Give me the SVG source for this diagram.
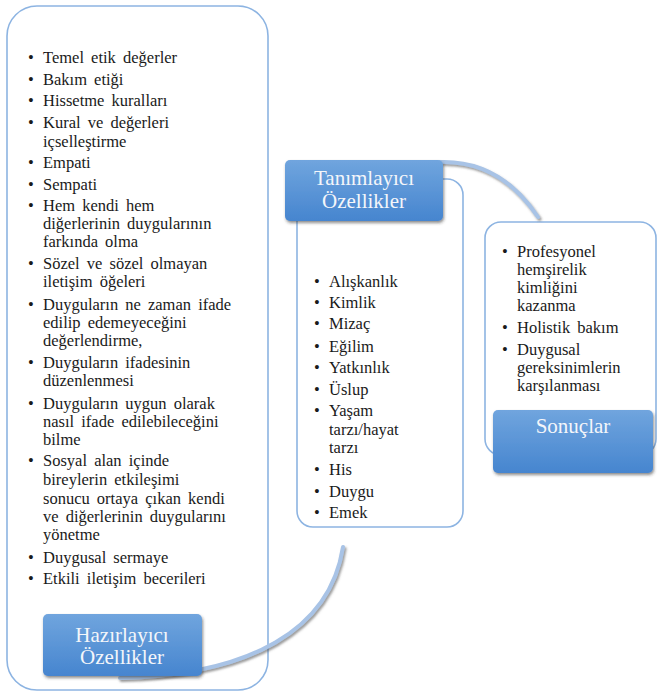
<svg xmlns="http://www.w3.org/2000/svg" width="659" height="695" viewBox="0 0 659 695" style="font-family:'Liberation Serif',serif">
<defs>
<linearGradient id="btn" x1="0" y1="0" x2="0" y2="1">
<stop offset="0" stop-color="#70a5de"/>
<stop offset="1" stop-color="#4685cf"/>
</linearGradient>
<filter id="sh" x="-10%" y="-10%" width="130%" height="140%">
<feDropShadow dx="1" dy="2" stdDeviation="1.5" flood-color="#333" flood-opacity="0.55"/>
</filter>
<filter id="csh" x="-20%" y="-20%" width="140%" height="140%">
<feDropShadow dx="1.5" dy="2" stdDeviation="1.2" flood-color="#555" flood-opacity="0.6"/>
</filter>
</defs>
<rect width="659" height="695" fill="#fff"/>

<g id="box-hazirlayici">
<rect x="7" y="6" width="261" height="684" rx="30" fill="#fff" stroke="#8db4e2" stroke-width="1.6"/>
<g fill="#1a1a1a">
<text style="font-family:'Liberation Serif',serif;font-size:16.5px" x="28" y="63">•</text><text style="font-family:'Liberation Serif',serif;font-size:16.5px;word-spacing:3px" x="43" y="63">Temel etik değerler</text>
<text style="font-family:'Liberation Serif',serif;font-size:16.5px" x="28" y="85">•</text><text style="font-family:'Liberation Serif',serif;font-size:16.5px;word-spacing:3px" x="43" y="85">Bakım etiği</text>
<text style="font-family:'Liberation Serif',serif;font-size:16.5px" x="28" y="106">•</text><text style="font-family:'Liberation Serif',serif;font-size:16.5px;word-spacing:3px" x="43" y="106">Hissetme kuralları</text>
<text style="font-family:'Liberation Serif',serif;font-size:16.5px" x="28" y="128">•</text><text style="font-family:'Liberation Serif',serif;font-size:16.5px;word-spacing:3px" x="43" y="128">Kural ve değerleri</text>
<text style="font-family:'Liberation Serif',serif;font-size:16.5px" x="43" y="147">içselleştirme</text>
<text style="font-family:'Liberation Serif',serif;font-size:16.5px" x="28" y="168">•</text><text style="font-family:'Liberation Serif',serif;font-size:16.5px" x="43" y="168">Empati</text>
<text style="font-family:'Liberation Serif',serif;font-size:16.5px" x="28" y="190">•</text><text style="font-family:'Liberation Serif',serif;font-size:16.5px" x="43" y="190">Sempati</text>
<text style="font-family:'Liberation Serif',serif;font-size:16.5px" x="28" y="211">•</text><text style="font-family:'Liberation Serif',serif;font-size:16.5px;word-spacing:3px" x="43" y="211">Hem kendi hem</text>
<text style="font-family:'Liberation Serif',serif;font-size:16.5px;word-spacing:3px" x="43" y="229">diğerlerinin duygularının</text>
<text style="font-family:'Liberation Serif',serif;font-size:16.5px;word-spacing:3px" x="43" y="247">farkında olma</text>
<text style="font-family:'Liberation Serif',serif;font-size:16.5px" x="28" y="269">•</text><text style="font-family:'Liberation Serif',serif;font-size:16.5px;word-spacing:3px" x="43" y="269">Sözel ve sözel olmayan</text>
<text style="font-family:'Liberation Serif',serif;font-size:16.5px;word-spacing:3px" x="43" y="287">iletişim öğeleri</text>
<text style="font-family:'Liberation Serif',serif;font-size:16.5px" x="28" y="310">•</text><text style="font-family:'Liberation Serif',serif;font-size:16.5px;word-spacing:3px" x="43" y="310">Duyguların ne zaman ifade</text>
<text style="font-family:'Liberation Serif',serif;font-size:16.5px;word-spacing:3px" x="43" y="328">edilip edemeyeceğini</text>
<text style="font-family:'Liberation Serif',serif;font-size:16.5px" x="43" y="346">değerlendirme,</text>
<text style="font-family:'Liberation Serif',serif;font-size:16.5px" x="28" y="368">•</text><text style="font-family:'Liberation Serif',serif;font-size:16.5px;word-spacing:3px" x="43" y="368">Duyguların ifadesinin</text>
<text style="font-family:'Liberation Serif',serif;font-size:16.5px" x="43" y="386">düzenlenmesi</text>
<text style="font-family:'Liberation Serif',serif;font-size:16.5px" x="28" y="409">•</text><text style="font-family:'Liberation Serif',serif;font-size:16.5px;word-spacing:3px" x="43" y="409">Duyguların uygun olarak</text>
<text style="font-family:'Liberation Serif',serif;font-size:16.5px;word-spacing:3px" x="43" y="427">nasıl ifade edilebileceğini</text>
<text style="font-family:'Liberation Serif',serif;font-size:16.5px" x="43" y="445">bilme</text>
<text style="font-family:'Liberation Serif',serif;font-size:16.5px" x="28" y="466">•</text><text style="font-family:'Liberation Serif',serif;font-size:16.5px;word-spacing:3px" x="43" y="466">Sosyal alan içinde</text>
<text style="font-family:'Liberation Serif',serif;font-size:16.5px;word-spacing:3px" x="43" y="485">bireylerin etkileşimi</text>
<text style="font-family:'Liberation Serif',serif;font-size:16.5px;word-spacing:3px" x="43" y="504">sonucu ortaya çıkan kendi</text>
<text style="font-family:'Liberation Serif',serif;font-size:16.5px;word-spacing:3px" x="43" y="522">ve diğerlerinin duygularını</text>
<text style="font-family:'Liberation Serif',serif;font-size:16.5px" x="43" y="540">yönetme</text>
<text style="font-family:'Liberation Serif',serif;font-size:16.5px" x="28" y="563">•</text><text style="font-family:'Liberation Serif',serif;font-size:16.5px;word-spacing:3px" x="43" y="563">Duygusal sermaye</text>
<text style="font-family:'Liberation Serif',serif;font-size:16.5px" x="28" y="584">•</text><text style="font-family:'Liberation Serif',serif;font-size:16.5px;word-spacing:3px" x="43" y="584">Etkili iletişim becerileri</text>
</g>
</g>

<g id="box-tanimlayici">
<rect x="297" y="179" width="166" height="348" rx="16" fill="#fff" stroke="#8db4e2" stroke-width="1.6"/>
<g fill="#1a1a1a">
<text style="font-family:'Liberation Serif',serif;font-size:16.5px" x="314" y="287">•</text><text style="font-family:'Liberation Serif',serif;font-size:16.5px" x="329" y="287">Alışkanlık</text>
<text style="font-family:'Liberation Serif',serif;font-size:16.5px" x="314" y="308">•</text><text style="font-family:'Liberation Serif',serif;font-size:16.5px" x="329" y="308">Kimlik</text>
<text style="font-family:'Liberation Serif',serif;font-size:16.5px" x="314" y="329">•</text><text style="font-family:'Liberation Serif',serif;font-size:16.5px" x="329" y="329">Mizaç</text>
<text style="font-family:'Liberation Serif',serif;font-size:16.5px" x="314" y="352">•</text><text style="font-family:'Liberation Serif',serif;font-size:16.5px" x="329" y="352">Eğilim</text>
<text style="font-family:'Liberation Serif',serif;font-size:16.5px" x="314" y="373">•</text><text style="font-family:'Liberation Serif',serif;font-size:16.5px" x="329" y="373">Yatkınlık</text>
<text style="font-family:'Liberation Serif',serif;font-size:16.5px" x="314" y="395">•</text><text style="font-family:'Liberation Serif',serif;font-size:16.5px" x="329" y="395">Üslup</text>
<text style="font-family:'Liberation Serif',serif;font-size:16.5px" x="314" y="416">•</text><text style="font-family:'Liberation Serif',serif;font-size:16.5px" x="329" y="416">Yaşam</text>
<text style="font-family:'Liberation Serif',serif;font-size:16.5px" x="329" y="435">tarzı/hayat</text>
<text style="font-family:'Liberation Serif',serif;font-size:16.5px" x="329" y="453">tarzı</text>
<text style="font-family:'Liberation Serif',serif;font-size:16.5px" x="314" y="475">•</text><text style="font-family:'Liberation Serif',serif;font-size:16.5px" x="329" y="475">His</text>
<text style="font-family:'Liberation Serif',serif;font-size:16.5px" x="314" y="497">•</text><text style="font-family:'Liberation Serif',serif;font-size:16.5px" x="329" y="497">Duygu</text>
<text style="font-family:'Liberation Serif',serif;font-size:16.5px" x="314" y="518">•</text><text style="font-family:'Liberation Serif',serif;font-size:16.5px" x="329" y="518">Emek</text>
</g>
</g>

<g id="box-sonuclar">
<rect x="485" y="222" width="171" height="233" rx="16" fill="#fff" stroke="#8db4e2" stroke-width="1.6"/>
<g fill="#1a1a1a">
<text style="font-family:'Liberation Serif',serif;font-size:16.5px" x="502" y="257">•</text><text style="font-family:'Liberation Serif',serif;font-size:16.5px" x="517" y="257">Profesyonel</text>
<text style="font-family:'Liberation Serif',serif;font-size:16.5px" x="517" y="275">hemşirelik</text>
<text style="font-family:'Liberation Serif',serif;font-size:16.5px" x="517" y="293">kimliğini</text>
<text style="font-family:'Liberation Serif',serif;font-size:16.5px" x="517" y="311">kazanma</text>
<text style="font-family:'Liberation Serif',serif;font-size:16.5px" x="502" y="333">•</text><text style="font-family:'Liberation Serif',serif;font-size:16.5px;word-spacing:3px" x="517" y="333">Holistik bakım</text>
<text style="font-family:'Liberation Serif',serif;font-size:16.5px" x="502" y="355">•</text><text style="font-family:'Liberation Serif',serif;font-size:16.5px" x="517" y="355">Duygusal</text>
<text style="font-family:'Liberation Serif',serif;font-size:16.5px" x="517" y="373">gereksinimlerin</text>
<text style="font-family:'Liberation Serif',serif;font-size:16.5px" x="517" y="391">karşılanması</text>
</g>
</g>

<g id="connectors" fill="none" stroke="#a8c3e6" stroke-width="4" stroke-linecap="round" filter="url(#csh)">
<path d="M 120 678 C 250 675, 330 630, 343 547"/>
<path d="M 440 162 Q 500 160 538 217"/>
</g>

<g id="btn-hazirlayici">
<rect x="43" y="614" width="159" height="62" rx="5" fill="url(#btn)" filter="url(#sh)"/>
<text style="font-family:'Liberation Serif',serif;font-size:21px" fill="#f4f6fa" text-anchor="middle" x="122" y="642">Hazırlayıcı</text>
<text style="font-family:'Liberation Serif',serif;font-size:21px" fill="#f4f6fa" text-anchor="middle" x="122" y="664">Özellikler</text>
</g>

<g id="btn-tanimlayici">
<rect x="285" y="160" width="158" height="61" rx="5" fill="url(#btn)" filter="url(#sh)"/>
<text style="font-family:'Liberation Serif',serif;font-size:21px" fill="#f4f6fa" text-anchor="middle" x="364" y="185">Tanımlayıcı</text>
<text style="font-family:'Liberation Serif',serif;font-size:21px" fill="#f4f6fa" text-anchor="middle" x="364" y="208">Özellikler</text>
</g>

<g id="btn-sonuclar">
<rect x="493" y="410" width="160" height="63" rx="5" fill="url(#btn)" filter="url(#sh)"/>
<text style="font-family:'Liberation Serif',serif;font-size:21px" fill="#f4f6fa" text-anchor="middle" x="573" y="433">Sonuçlar</text>
</g>
</svg>
